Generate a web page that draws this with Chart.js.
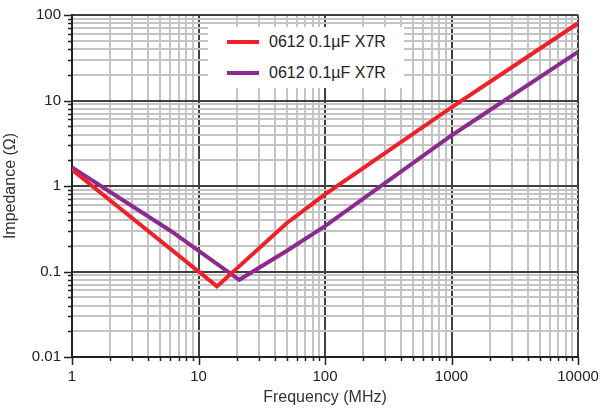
<!DOCTYPE html>
<html>
<head>
<meta charset="utf-8">
<script src="https://cdn.jsdelivr.net/npm/chart.js@4"></script>
<style>
  body { margin: 0; background: #fff; }
  #wrap { position: relative; width: 610px; height: 408px; }
  #legend {
    position: absolute; left: 208px; top: 27px; width: 196px; height: 61px;
    background: #fff; font: 16px "Liberation Sans", Arial, sans-serif; color: #222;
  }
  #legend .item { position: absolute; left: 19px; height: 20px; line-height: 20px; }
  #legend .swatch { position: absolute; left: 0; top: 8px; width: 32px; height: 4px; }
  #legend .text { position: absolute; left: 42px; top: 0; white-space: nowrap; }
</style>
</head>
<body>
<div id="wrap">
  <canvas id="impedanceChart" width="610" height="408"></canvas>
  <div id="legend"></div>
</div>
<script>
// --- datos ---
const xTickLabels = ['1', '10', '100', '1000', '10000'];
const yTickLabels = ['0.01', '0.1', '1', '10', '100'];

const seriesNames = ['0612 0.1µF X7R', '0612 0.1µF X7R'];
const seriesColors = ['#ee2028', '#8c2a8f'];

const redFreq = [1, 14, 50, 100, 1000, 10000];
const redZ = [1.55, 0.067, 0.37, 0.8, 8.3, 80];

const purpleFreq = [1, 6, 21, 50, 100, 1000, 10000];
const purpleZ = [1.65, 0.3, 0.08, 0.175, 0.34, 3.9, 37];

// ticks: decades plus 2..9 in between
function logTicks(labels) {
    const vals = [];
    labels.forEach(function (l, i) {
        const d = Number(l);
        vals.push(d);
        if (i < labels.length - 1) {
            for (let m = 2; m <= 9; m++) vals.push(+(m * d).toPrecision(6));
        }
    });
    return vals;
}
function isMajor(v) {
    const l = Math.log10(v);
    return Math.abs(l - Math.round(l)) < 1e-9;
}
const xTicks = logTicks(xTickLabels);
const yTicks = logTicks(yTickLabels);

const toPoints = (xs, ys) => xs.map((x, i) => ({ x: x, y: ys[i] }));

const font = { family: '"Liberation Sans", Arial, sans-serif', size: 15 };
const majorGrid = '#404040';
const minorGrid = '#c4c4c4';

// short black tick marks outside the plot, longer at decades
const tickMarks = {
    id: 'tickMarks',
    afterDraw(chart) {
        const { ctx, chartArea, scales } = chart;
        ctx.save();
        ctx.strokeStyle = '#222';
        ctx.lineWidth = 1.5;
        ctx.beginPath();
        scales.x.ticks.forEach(function (t) {
            const px = Math.round(scales.x.getPixelForValue(t.value)) + 0.5;
            ctx.moveTo(px, chartArea.bottom);
            ctx.lineTo(px, chartArea.bottom + (isMajor(t.value) ? 8 : 4));
        });
        scales.y.ticks.forEach(function (t) {
            const py = Math.round(scales.y.getPixelForValue(t.value)) + 0.5;
            ctx.moveTo(chartArea.left, py);
            ctx.lineTo(chartArea.left - (isMajor(t.value) ? 8 : 4), py);
        });
        ctx.stroke();
        ctx.restore();
    }
};

const ctx = document.getElementById('impedanceChart').getContext('2d');
const chart = new Chart(ctx, {
    type: 'line',
    data: {
        datasets: [{
            label: seriesNames[0],
            data: toPoints(redFreq, redZ),
            borderColor: seriesColors[0],
            borderWidth: 4,
            pointRadius: 0,
            tension: 0
        }, {
            label: seriesNames[1],
            data: toPoints(purpleFreq, purpleZ),
            borderColor: seriesColors[1],
            borderWidth: 4,
            pointRadius: 0,
            tension: 0
        }]
    },
    options: {
        responsive: false,
        animation: false,
        devicePixelRatio: 1,
        layout: { padding: { top: 15, right: 32, left: 0, bottom: 0 } },
        plugins: {
            legend: { display: false },
            tooltip: { enabled: false }
        },
        scales: {
            x: {
                type: 'logarithmic',
                min: 1,
                max: 10000,
                afterBuildTicks: s => { s.ticks = xTicks.map(v => ({ value: v })); },
                afterFit: s => { s.height = 51; },
                border: { color: '#222', width: 2 },
                grid: {
                    drawTicks: false,
                    lineWidth: 2,
                    color: c => isMajor(c.tick.value) ? majorGrid : minorGrid
                },
                ticks: {
                    autoSkip: false,
                    maxRotation: 0,
                    padding: 11,
                    color: '#222',
                    font: font,
                    callback: v => isMajor(v) ? String(+v.toPrecision(6)) : ''
                },
                title: {
                    display: true,
                    text: 'Frequency (MHz)',
                    color: '#333',
                    font: { family: font.family, size: 16 },
                    padding: { top: 0, bottom: 1 }
                }
            },
            y: {
                type: 'logarithmic',
                min: 0.01,
                max: 100,
                afterBuildTicks: s => { s.ticks = yTicks.map(v => ({ value: v })); },
                afterFit: s => {
                    s.width = 72;
                    s.paddingTop = 0;
                    s.paddingBottom = 0;
                },
                border: { color: '#222', width: 2 },
                grid: {
                    drawTicks: false,
                    lineWidth: 2,
                    color: c => isMajor(c.tick.value) ? majorGrid : minorGrid
                },
                ticks: {
                    autoSkip: false,
                    padding: 11,
                    color: '#222',
                    font: font,
                    callback: v => isMajor(v) ? String(+v.toPrecision(6)) : ''
                },
                title: {
                    display: true,
                    text: 'Impedance (Ω)',
                    color: '#333',
                    font: { family: font.family, size: 16 },
                    padding: { top: 1, bottom: 0 }
                }
            }
        }
    },
    plugins: [tickMarks]
});

// leyenda en HTML sobre el gráfico
const legendEl = document.getElementById('legend');
chart.data.datasets.forEach(function (ds, i) {
    const item = document.createElement('div');
    item.className = 'item';
    item.style.top = (5 + i * 30.5) + 'px';
    item.innerHTML = '<span class="swatch" style="background:' + ds.borderColor + '"></span>' +
        '<span class="text">' + ds.label + '</span>';
    legendEl.appendChild(item);
});
</script>
</body>
</html>
